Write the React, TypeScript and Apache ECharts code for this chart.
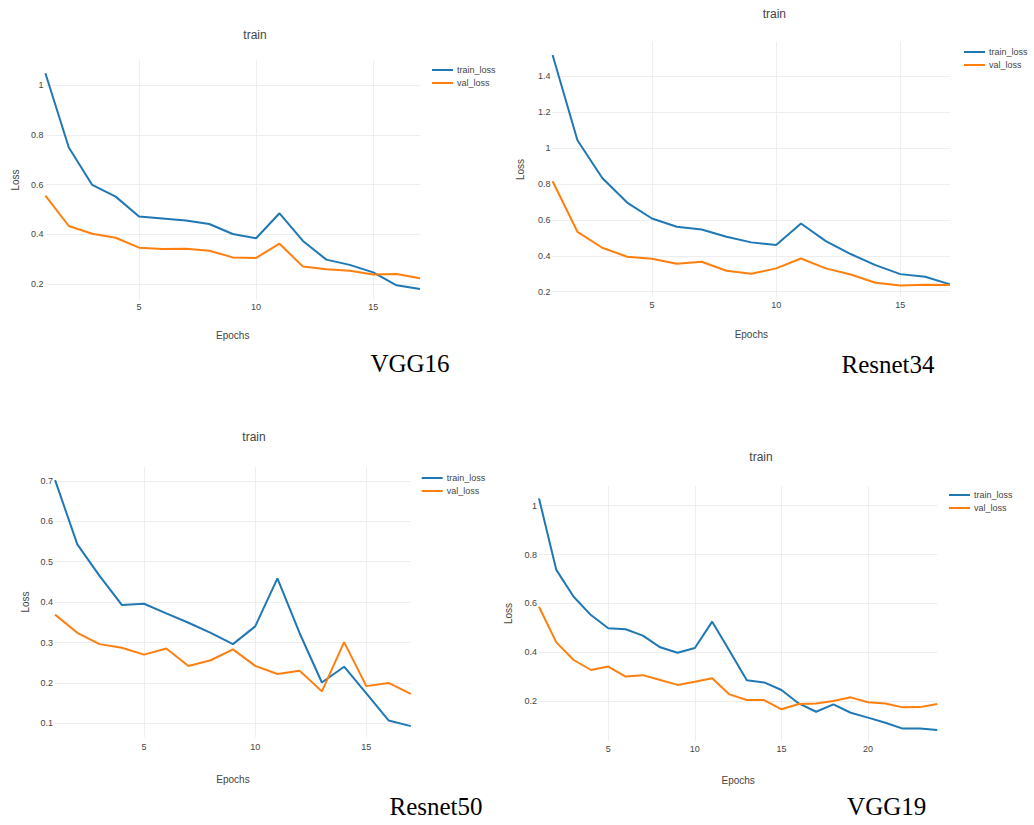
import React, { useEffect, useRef } from "react";
import * as echarts from "echarts";

// ---------- data ----------
const seriesNames = ["train_loss", "val_loss"];
const captions = ["VGG16", "Resnet34", "Resnet50", "VGG19"];

const vgg16Train = [1.047, 0.749, 0.599, 0.552, 0.472, 0.464, 0.456, 0.442, 0.402, 0.385, 0.485, 0.374, 0.299, 0.278, 0.248, 0.196, 0.181];
const vgg16Val = [0.556, 0.434, 0.403, 0.387, 0.347, 0.342, 0.343, 0.335, 0.308, 0.306, 0.363, 0.271, 0.26, 0.254, 0.239, 0.241, 0.224];

const resnet34Train = [1.52, 1.044, 0.834, 0.697, 0.608, 0.562, 0.547, 0.506, 0.475, 0.46, 0.58, 0.482, 0.41, 0.348, 0.298, 0.283, 0.241];
const resnet34Val = [0.816, 0.534, 0.445, 0.395, 0.384, 0.356, 0.367, 0.317, 0.3, 0.33, 0.385, 0.33, 0.296, 0.25, 0.235, 0.239, 0.237];

const resnet50Train = [0.702, 0.543, 0.465, 0.393, 0.396, 0.372, 0.349, 0.324, 0.296, 0.34, 0.459, 0.323, 0.201, 0.24, 0.174, 0.107, 0.093];
const resnet50Val = [0.369, 0.324, 0.296, 0.287, 0.27, 0.285, 0.242, 0.256, 0.283, 0.242, 0.222, 0.23, 0.179, 0.301, 0.192, 0.2, 0.173];

const vgg19Train = [1.03, 0.737, 0.627, 0.552, 0.498, 0.494, 0.468, 0.42, 0.398, 0.417, 0.525, 0.406, 0.285, 0.276, 0.245, 0.19, 0.156, 0.186, 0.152, 0.132, 0.111, 0.087, 0.087, 0.081];
const vgg19Val = [0.586, 0.44, 0.368, 0.327, 0.341, 0.3, 0.306, 0.286, 0.266, 0.279, 0.293, 0.227, 0.204, 0.204, 0.166, 0.188, 0.19, 0.2, 0.215, 0.195, 0.19, 0.174, 0.175, 0.188];

const xTicks16 = [5, 10, 15];
const xTicks24 = [5, 10, 15, 20];
const yTicksA = [0.2, 0.4, 0.6, 0.8, 1];
const yTicksB = [0.2, 0.4, 0.6, 0.8, 1, 1.2, 1.4];
const yTicksC = [0.1, 0.2, 0.3, 0.4, 0.5, 0.6, 0.7];

// ---------- layout ----------
const FONT = "'Liberation Sans', Arial, sans-serif";
const TXT = "#444";
const GRIDC = "#eeeeee";
const BLUE = "#1f77b4";
const ORANGE = "#ff7f0e";

const panels = [
  {
    train: vgg16Train, val: vgg16Val, xTicks: xTicks16, yTicks: yTicksA,
    grid: { left: 45.4, top: 60, width: 374.6, height: 240 },
    yMin: 0.137, yMax: 1.1004,
    title: [255, 35], legend: [432, 65.5], caption: [410, 363.3],
    yNameGap: 25, xNameGap: 30, xMargin: 2,
  },
  {
    train: resnet34Train, val: resnet34Val, xTicks: xTicks16, yTicks: yTicksB,
    grid: { left: 552.6, top: 42, width: 397.4, height: 255 },
    yMin: 0.1705, yMax: 1.592,
    title: [774.3, 14], legend: [964, 47.5], caption: [888, 364.2],
    yNameGap: 27, xNameGap: 32, xMargin: 3,
  },
  {
    train: resnet50Train, val: resnet50Val, xTicks: xTicks16, yTicks: yTicksC,
    grid: { left: 55.1, top: 467, width: 355.7, height: 270 },
    yMin: 0.066, yMax: 0.7346,
    title: [254, 437.3], legend: [421.7, 473.5], caption: [436, 806],
    yNameGap: 25, xNameGap: 37, xMargin: 5,
  },
  {
    train: vgg19Train, val: vgg19Val, xTicks: xTicks24, yTicks: yTicksA,
    grid: { left: 539, top: 486, width: 398.3, height: 255 },
    yMin: 0.0362, yMax: 1.0807,
    title: [761, 457.3], legend: [949, 490.5], caption: [886.7, 806.7],
    yNameGap: 26, xNameGap: 34, xMargin: 3,
  },
];

function toPairs(arr: number[]) {
  return arr.map((v, i) => [i + 1, v]);
}

export default function App() {
  const ref = useRef<HTMLDivElement>(null);
  useEffect(() => {
    if (!ref.current) return;
    const chart = echarts.init(ref.current, null, { renderer: "svg" });

    const grid: any[] = [];
    const xAxis: any[] = [];
    const yAxis: any[] = [];
    const series: any[] = [];
    const legend: any[] = [];
    const graphic: any[] = [];

    panels.forEach((p, i) => {
      grid.push({ ...p.grid, containLabel: false });
      xAxis.push({
        type: "value",
        gridIndex: i,
        min: 1,
        max: p.train.length,
        name: "Epochs",
        nameLocation: "middle",
        nameGap: p.xNameGap,
        nameTextStyle: { fontSize: 10, color: TXT, fontFamily: FONT },
        axisLine: { show: false },
        axisTick: { show: false, customValues: p.xTicks },
        axisLabel: { customValues: p.xTicks, fontSize: 9, color: TXT, fontFamily: FONT, margin: p.xMargin },
        splitLine: { show: true, lineStyle: { color: GRIDC, width: 1 } },
      });
      yAxis.push({
        type: "value",
        gridIndex: i,
        min: p.yMin,
        max: p.yMax,
        name: "Loss",
        nameLocation: "middle",
        nameGap: p.yNameGap,
        nameTextStyle: { fontSize: 10, color: TXT, fontFamily: FONT },
        axisLine: { show: false },
        axisTick: { show: false, customValues: p.yTicks },
        axisLabel: { customValues: p.yTicks, fontSize: 9, color: TXT, fontFamily: FONT, margin: 2 },
        splitLine: { show: true, lineStyle: { color: GRIDC, width: 1 } },
      });
      series.push({
        name: seriesNames[0], type: "line", xAxisIndex: i, yAxisIndex: i,
        data: toPairs(p.train), showSymbol: false,
        lineStyle: { color: BLUE, width: 2 }, itemStyle: { color: BLUE },
      });
      series.push({
        name: seriesNames[1], type: "line", xAxisIndex: i, yAxisIndex: i,
        data: toPairs(p.val), showSymbol: false,
        lineStyle: { color: ORANGE, width: 2 }, itemStyle: { color: ORANGE },
      });
      legend.push({
        orient: "vertical",
        left: p.legend[0],
        top: p.legend[1],
        padding: 0,
        itemGap: 4,
        itemWidth: 21,
        itemHeight: 2,
        icon: "rect",
        data: seriesNames,
        textStyle: { fontSize: 9, color: TXT, fontFamily: FONT, padding: [0, 0, 0, -1] },
      });
      graphic.push({
        type: "text",
        x: p.title[0],
        y: p.title[1],
        style: { text: "train", align: "center", verticalAlign: "middle", fontSize: 12, fill: TXT, fontFamily: FONT },
      });
      graphic.push({
        type: "text",
        x: p.caption[0],
        y: p.caption[1],
        style: { text: captions[i], align: "center", verticalAlign: "middle", fontSize: 25, fill: "#000", fontFamily: "'Liberation Serif', 'Times New Roman', serif" },
      });
    });

    chart.setOption({
      animation: false,
      backgroundColor: "#ffffff",
      grid,
      xAxis,
      yAxis,
      series,
      legend,
      graphic,
    });
    return () => chart.dispose();
  }, []);

  return (
    <div
      ref={ref}
      style={{ position: "fixed", left: 0, top: 0, width: 1034, height: 825, background: "#fff" }}
    />
  );
}
